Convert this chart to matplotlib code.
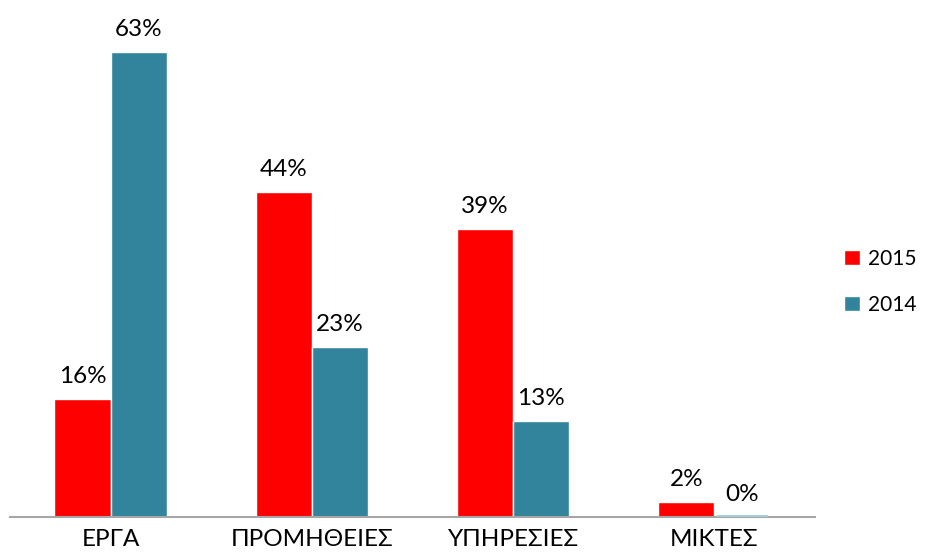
import matplotlib
matplotlib.use("Agg")
import matplotlib.pyplot as plt
import numpy as np

categories = ["ΕΡΓΑ", "ΠΡΟΜΗΘΕΙΕΣ", "ΥΠΗΡΕΣΙΕΣ", "ΜΙΚΤΕΣ"]
series_names = ["2015", "2014"]
values_2015 = [16, 44, 39, 2]
values_2014 = [63, 23, 13, 0]
labels_2015 = ["16%", "44%", "39%", "2%"]
labels_2014 = ["63%", "23%", "13%", "0%"]

plt.rcParams['font.family'] = ['Lato', 'DejaVu Sans']

fig = plt.figure(figsize=(9.26, 5.54), dpi=100)
ax = fig.add_axes([10/926, 37/554, 805/926, 517/554])

x = np.arange(len(categories))
w = 0.28
red = "#FF0000"
teal = "#31849B"
b1 = ax.bar(x - w/2, values_2015, w, color=red, edgecolor="white", linewidth=1, label=series_names[0])
b2 = ax.bar(x + w/2, values_2014, w, color=teal, edgecolor="white", linewidth=1, label=series_names[1])
# zero-value bar visible as thin line
for xi, v in zip(x, values_2014):
    if v == 0:
        ax.plot([xi + 0.02, xi + w - 0.02], [0.08, 0.08], color="#A9CCDA", lw=1.5, zorder=3)

fs = 17.5
for rect, lab in zip(b1, labels_2015):
    ax.text(rect.get_x() + rect.get_width()/2, rect.get_height() + 1.6, lab,
            ha="center", va="bottom", fontsize=fs)
for rect, lab in zip(b2, labels_2014):
    ax.text(rect.get_x() + rect.get_width()/2, rect.get_height() + 1.6, lab,
            ha="center", va="bottom", fontsize=fs)

ax.set_xlim(-0.5, 3.5)
ax.set_ylim(0, 70)
ax.set_xticks(x)
ax.set_xticklabels(categories, fontsize=fs)
ax.tick_params(axis="x", length=0, pad=9)
ax.set_yticks([])
for s in ["top", "right", "left"]:
    ax.spines[s].set_visible(False)
ax.spines["bottom"].set_color("#A6A6A6")
ax.spines["bottom"].set_linewidth(1.5)

fig.legend(handles=[b1, b2], labels=series_names, loc="center left",
           bbox_to_anchor=(844/926, 1 - 282/554), frameon=False, fontsize=15,
           borderaxespad=0, borderpad=0,
           handlelength=0.75, handleheight=0.75, handletextpad=0.4, labelspacing=1.25)

fig.savefig("out.png", dpi=100)
